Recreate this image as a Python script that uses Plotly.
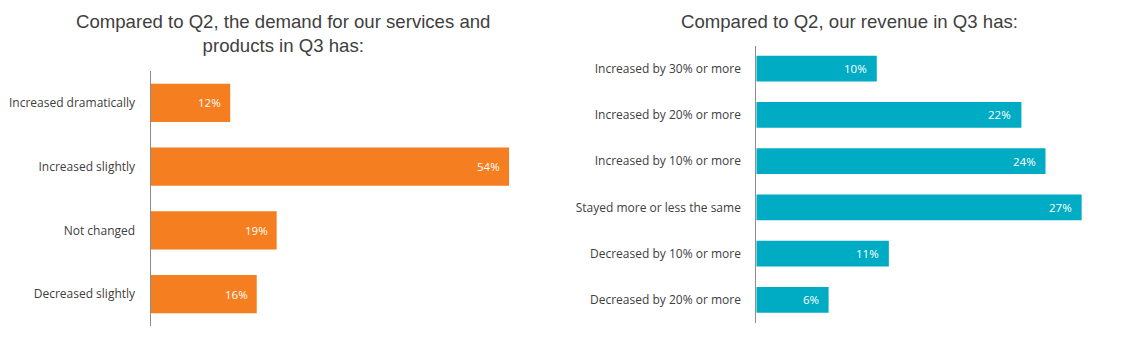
import plotly.graph_objects as go

# Demand question
demand_categories = ["Increased dramatically", "Increased slightly", "Not changed", "Decreased slightly"]
demand_values = [0.12, 0.54, 0.19, 0.16]
demand_title = "Compared to Q2, the demand for our services and<br>products in Q3 has:"

# Revenue question
revenue_categories = [
    "Increased by 30% or more",
    "Increased by 20% or more",
    "Increased by 10% or more",
    "Stayed more or less the same",
    "Decreased by 10% or more",
    "Decreased by 20% or more",
]
revenue_values = [0.10, 0.22, 0.24, 0.27, 0.11, 0.06]
revenue_title = "Compared to Q2, our revenue in Q3 has:"

ORANGE = "#F47E20"
TEAL = "#00ACC4"
TEXT = "#404040"
AXIS = "#8C8C8C"
LABEL_FONT = "Open Sans"
TITLE_FONT = "Liberation Sans, Arial, sans-serif"

W, H = 1131, 340

fig = go.Figure()

fig.add_trace(go.Bar(
    x=demand_values, y=demand_categories, orientation="h",
    marker=dict(color=ORANGE, line=dict(width=0)),
    xaxis="x", yaxis="y", showlegend=False, hoverinfo="x+y", width=0.60,
))
fig.add_trace(go.Bar(
    x=revenue_values, y=revenue_categories, orientation="h",
    marker=dict(color=TEAL, line=dict(width=0)),
    xaxis="x2", yaxis="y2", showlegend=False, hoverinfo="x+y", width=0.56,
))

# value labels just inside the bar ends
value_font = dict(family=LABEL_FONT, size=11.5, color="white", weight=500)
annotations = []
for cat, v in zip(demand_categories, demand_values):
    annotations.append(dict(
        x=v, y=cat, xref="x", yref="y", text=f"{v:.0%}", showarrow=False,
        xanchor="right", xshift=-7, yanchor="middle", font=value_font,
    ))
for cat, v in zip(revenue_categories, revenue_values):
    annotations.append(dict(
        x=v, y=cat, xref="x2", yref="y2", text=f"{v:.0%}", showarrow=False,
        xanchor="right", xshift=-8, yanchor="middle", font=value_font,
    ))

# chart titles
annotations.append(dict(
    x=283 / W, y=1 - 9 / H, xref="paper", yref="paper", text=demand_title,
    showarrow=False, xanchor="center", yanchor="top", align="center",
    font=dict(family=TITLE_FONT, size=18.6, color=TEXT),
))
annotations.append(dict(
    x=850 / W, y=1 - 9 / H, xref="paper", yref="paper", text=revenue_title,
    showarrow=False, xanchor="center", yanchor="top", align="center",
    font=dict(family=TITLE_FONT, size=18.6, color=TEXT),
))

x1_start = 150.5
x1_scale = 664.0  # px per 1.0
x1_max = 0.6
x2_start = 756.3
x2_scale = 1205.0
x2_max = 0.30

fig.update_layout(
    width=W, height=H,
    margin=dict(l=0, r=0, t=0, b=0),
    paper_bgcolor="white", plot_bgcolor="white",
    annotations=annotations,
    xaxis=dict(
        domain=[x1_start / W, (x1_start + x1_scale * x1_max) / W],
        range=[0, x1_max], visible=False, fixedrange=True,
    ),
    yaxis=dict(
        domain=[1 - 326 / H, 1 - 71 / H], anchor="x",
        categoryorder="array", categoryarray=demand_categories[::-1],
        showline=True, linecolor=AXIS, linewidth=1, ticks="", showgrid=False,
        ticklabelstandoff=12,
        tickfont=dict(family=LABEL_FONT, size=12, color=TEXT),
    ),
    xaxis2=dict(
        domain=[x2_start / W, (x2_start + x2_scale * x2_max) / W],
        range=[0, x2_max], visible=False, fixedrange=True, anchor="y2",
    ),
    yaxis2=dict(
        domain=[1 - 323 / H, 1 - 45.5 / H], anchor="x2",
        categoryorder="array", categoryarray=revenue_categories[::-1],
        showline=True, linecolor=AXIS, linewidth=1, ticks="", showgrid=False,
        ticklabelstandoff=12,
        tickfont=dict(family=LABEL_FONT, size=12, color=TEXT),
    ),
)

fig.write_html("out.html")
